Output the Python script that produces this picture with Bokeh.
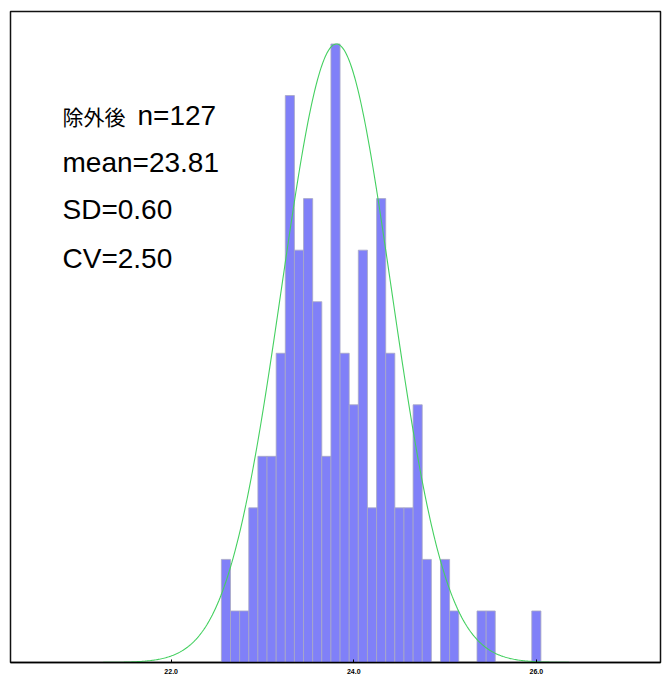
import numpy as np
from bokeh.plotting import figure
from bokeh.models import Label, FixedTicker, Range1d
from bokeh.embed import file_html
from bokeh.resources import INLINE

# ---- data ----
bin_centers = [22.6, 22.7, 22.8, 22.9, 23.0, 23.1, 23.2, 23.3, 23.4, 23.5,
               23.6, 23.7, 23.8, 23.9, 24.0, 24.1, 24.2, 24.3, 24.4, 24.5,
               24.6, 24.7, 24.8, 24.9, 25.0, 25.1, 25.2, 25.3, 25.4, 25.5,
               25.6, 25.7, 25.8, 25.9, 26.0]
counts = [2, 1, 1, 3, 4, 4, 6, 11, 8, 9,
          7, 4, 12, 6, 5, 8, 3, 9, 6, 3,
          3, 5, 2, 0, 2, 1, 0, 0, 1, 1,
          0, 0, 0, 0, 1]
n_after = 127
mean_val = 23.81
sd_val = 0.60
cv_val = 2.50
x_ticks = [22.0, 24.0, 26.0]
x_min, x_max = 20.24, 27.36
y_max = 12.63

p = figure(width=670, height=683, output_backend="svg", toolbar_location=None,
           x_range=Range1d(x_min, x_max), y_range=Range1d(0, y_max),
           y_axis_location=None, min_border_left=10, min_border_right=10,
           min_border_top=11, min_border_bottom=21)
p.xgrid.visible = False
p.ygrid.visible = False
p.outline_line_color = "#111111"
p.outline_line_width = 1.5
p.background_fill_color = "white"

p.vbar(x=bin_centers, width=0.1, top=counts, bottom=0,
       fill_color="#8080f8", line_color="#a8a8c4", line_width=0.8)

# normal curve from the stated mean / SD, scaled to the tallest bar
xs = np.linspace(x_min, x_max, 600)
ys = max(counts) * np.exp(-0.5 * ((xs - mean_val) / sd_val) ** 2)
p.line(xs, ys, line_color="#44d060", line_width=1.1)

ax = p.xaxis[0]
ax.ticker = FixedTicker(ticks=x_ticks)
ax.major_label_overrides = {t: f"{t:.1f}" for t in x_ticks}
ax.major_label_text_font = "Liberation Sans"
ax.major_label_text_font_size = "7px"
ax.major_label_text_font_style = "bold"
ax.major_label_text_color = "black"
ax.major_tick_in = 3
ax.major_tick_out = 0
ax.minor_tick_in = 0
ax.minor_tick_out = 0
ax.major_label_standoff = 6
ax.axis_line_color = "black"
ax.axis_line_width = 1.5
ax.major_tick_line_color = "black"

# Label screen coords are relative to the frame (left / bottom)
FRAME_L, FRAME_B = 10, 662
def add_label(txt, x_page, y_page, size, font="Liberation Sans", style="normal"):
    p.add_layout(Label(x=x_page - FRAME_L, y=FRAME_B - y_page,
                       x_units="screen", y_units="screen",
                       text=txt, text_font=font, text_font_size=size,
                       text_font_style=style, text_baseline="middle", text_align="left",
                       text_color="black"))

add_label("除外後", 62, 115, "21px", font="Noto Sans CJK JP")
add_label(f"n={n_after}", 137, 115, "28px")
add_label(f"mean={mean_val:.2f}", 62, 162, "28px")
add_label(f"SD={sd_val:.2f}", 62, 209, "28px")
add_label(f"CV={cv_val:.2f}", 62, 258, "28px")

# corner max labels
add_label(f"{int(np.floor(y_max))}", 661, 8, "7px", style="bold")
add_label(f"{int(np.floor(x_max))}.", 659, 677, "7px", style="bold")

open("out.html", "w").write(file_html(p, INLINE))
